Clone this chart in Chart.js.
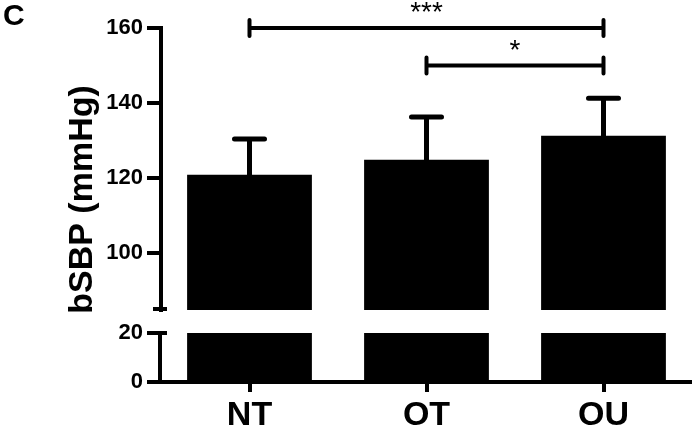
<!DOCTYPE html>
<html><head><meta charset="utf-8">
<script src="https://cdn.jsdelivr.net/npm/chart.js@4"></script>
<style>html,body{margin:0;padding:0;background:#fff}canvas{display:block}</style>
</head><body>
<canvas id="c" width="692" height="429"></canvas>
<script>
// ---- data ----
const categories = ['NT', 'OT', 'OU'];
const means = [120.9, 124.9, 131.3];
const sds = [9.5, 11.4, 10.0];
const upperTicks = [100, 120, 140, 160];
const lowerTicks = [0, 20];
const lowerTop = 20;      // top of lower axis segment
const upperBottom = 84.8; // bottom of upper axis segment
const sigFrom = [0, 1];
const sigTo = [2, 2];
const sigLevel = [160, 150];
const sigText = ['***', '*'];
const panelLabel = 'C';
const yTitle = 'bSBP (mmHg)';

const FONT = "'Liberation Sans', Arial, Helvetica, sans-serif";

const deco = {
  id: 'deco',
  afterDatasetsDraw(chart) {
    const ctx = chart.ctx;
    const x = chart.scales.x, yT = chart.scales.yTop, yB = chart.scales.yBot;
    const L = chart.chartArea.left;
    ctx.save();
    ctx.strokeStyle = '#000';
    ctx.fillStyle = '#000';
    // error bars
    ctx.lineWidth = 5; ctx.lineCap = 'round';
    means.forEach((m, i) => {
      const cx = x.getPixelForValue(i);
      const y0 = yT.getPixelForValue(m), y1 = yT.getPixelForValue(m + sds[i]);
      ctx.beginPath();
      ctx.moveTo(cx, y0); ctx.lineTo(cx, y1);
      ctx.moveTo(cx - 15, y1); ctx.lineTo(cx + 15, y1);
      ctx.stroke();
    });
    // significance brackets
    ctx.lineWidth = 4; ctx.lineCap = 'butt';
    sigLevel.forEach((lv, k) => {
      const x0 = x.getPixelForValue(sigFrom[k]), x1 = x.getPixelForValue(sigTo[k]);
      const yy = yT.getPixelForValue(lv);
      ctx.beginPath(); ctx.moveTo(x0, yy); ctx.lineTo(x1, yy); ctx.stroke();
      ctx.lineCap = 'round';
      ctx.beginPath();
      ctx.moveTo(x0, yy - 8); ctx.lineTo(x0, yy + 8);
      ctx.moveTo(x1, yy - 8); ctx.lineTo(x1, yy + 8);
      ctx.stroke();
      ctx.lineCap = 'butt';
      ctx.font = '28px ' + FONT;
      ctx.textAlign = 'center'; ctx.textBaseline = 'alphabetic';
      ctx.fillText(sigText[k], (x0 + x1) / 2, yy - 7);
    });
    // lower axis line + break caps
    ctx.lineWidth = 4; ctx.lineCap = 'butt';
    const yb0 = yB.getPixelForValue(0), yb20 = yB.getPixelForValue(lowerTop);
    ctx.beginPath(); ctx.moveTo(L - 1, yb0); ctx.lineTo(L - 1, yb20 - 2); ctx.stroke();
    ctx.beginPath(); ctx.moveTo(L - 2, yb20); ctx.lineTo(L + 6, yb20); ctx.stroke();
    const yt = yT.getPixelForValue(upperBottom);
    ctx.beginPath(); ctx.moveTo(L - 8, yt - 1); ctx.lineTo(L + 6, yt - 1); ctx.stroke();
    // y title
    ctx.font = 'bold 34px ' + FONT;
    ctx.textAlign = 'center'; ctx.textBaseline = 'alphabetic';
    ctx.save();
    ctx.translate(92, 199.5);
    ctx.rotate(-Math.PI / 2);
    ctx.fillText(yTitle, 0, 0);
    ctx.restore();
    // panel label
    ctx.font = 'bold 30px ' + FONT;
    ctx.textAlign = 'left'; ctx.textBaseline = 'alphabetic';
    ctx.fillText(panelLabel, 3, 25);
    ctx.restore();
  }
};

const tickFont = {family: FONT, size: 22, weight: 'bold'};

new Chart(document.getElementById('c'), {
  type: 'bar',
  data: {
    labels: categories,
    datasets: [
      {
        data: means.map(v => [upperBottom, v]),
        yAxisID: 'yTop',
        backgroundColor: '#000', borderWidth: 0, grouped: false,
        barPercentage: 0.705, categoryPercentage: 1
      },
      {
        data: means.map(v => Math.min(v, lowerTop)),
        yAxisID: 'yBot',
        backgroundColor: '#000', borderWidth: 0, grouped: false,
        barPercentage: 0.705, categoryPercentage: 1
      }
    ]
  },
  options: {
    responsive: false,
    animation: false,
    devicePixelRatio: 1,
    layout: {padding: {top: 28, left: 0, right: 0, bottom: 0}},
    plugins: {legend: {display: false}, tooltip: {enabled: false}, title: {display: false}},
    scales: {
      x: {
        type: 'category',
        grid: {display: true, drawOnChartArea: false, drawTicks: true, tickLength: 10, lineWidth: 4, color: '#000', offset: false},
        border: {display: true, color: '#000', width: 4},
        ticks: {color: '#000', font: {family: FONT, size: 34, weight: 'bold'}, padding: 3, maxRotation: 0},
        afterFit(s) { s.height = 47; }
      },
      yBot: {
        type: 'linear', position: 'left', stack: 'v', stackWeight: 72,
        min: 0, max: 29.4,
        afterBuildTicks(s) { s.ticks = lowerTicks.map(v => ({value: v})); },
        grid: {display: true, drawOnChartArea: false, drawTicks: true, tickLength: 14, lineWidth: 4, color: '#000'},
        border: {display: false},
        ticks: {color: '#000', font: tickFont, padding: 4},
        afterFit(s) { s.width = 161; }
      },
      yTop: {
        type: 'linear', position: 'left', stack: 'v', stackWeight: 282,
        min: upperBottom, max: 160,
        afterBuildTicks(s) { s.ticks = upperTicks.map(v => ({value: v})); },
        grid: {display: true, drawOnChartArea: false, drawTicks: true, tickLength: 14, lineWidth: 4, color: '#000'},
        border: {display: true, color: '#000', width: 4},
        ticks: {color: '#000', font: tickFont, padding: 4},
        afterFit(s) { s.width = 161; }
      }
    }
  },
  plugins: [deco]
});
</script>
</body></html>
